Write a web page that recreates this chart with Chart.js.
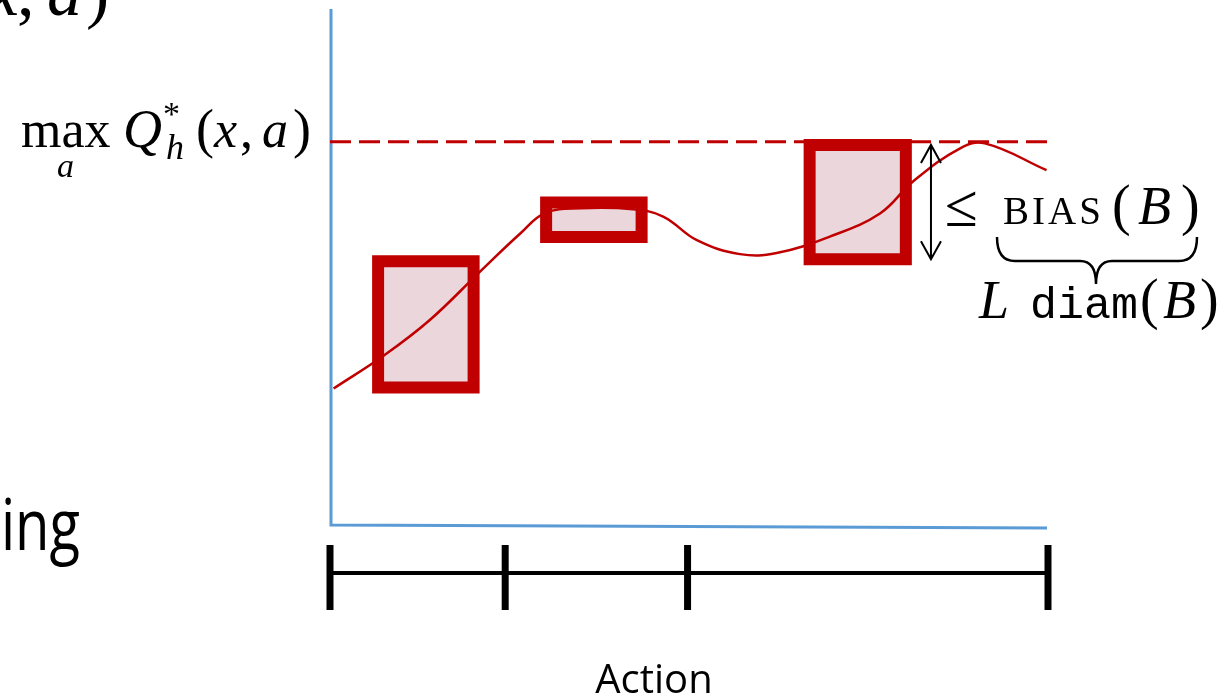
<!DOCTYPE html>
<html>
<head>
<meta charset="utf-8">
<script src="https://cdn.jsdelivr.net/npm/chart.js@4/dist/chart.umd.min.js"></script>
<style>
  html, body { margin: 0; padding: 0; background: #ffffff; }
  #wrap { width: 1231px; height: 698px; position: relative; }
</style>
</head>
<body>
<div id="wrap"><canvas id="qChart"></canvas></div>
<script>
// =====================================
// DATA (action on x, value on y, both 0..100)
// =====================================

const curveX = [0.5, 7.6, 13.9, 20.9, 26.5, 30.0, 35.0, 42.2, 46.4, 51.1, 57.1, 62.2,
    69.6, 76.6, 81.2, 87.7, 91.2, 99.8];
const curveY = [26.5, 33.0, 39.8, 49.2, 56.6, 60.6, 61.5, 61.3, 59.9, 55.3, 52.6, 52.8,
    56.0, 60.5, 66.7, 73.1, 74.1, 68.9];

const maxQ = 74.4;

// boxes: action range and value range
const boxLeft = [6.7, 30.1, 66.8];
const boxRight = [20.0, 43.4, 80.2];
const boxLow = [26.7, 55.9, 51.6];
const boxHigh = [51.2, 62.6, 73.8];

// partition of the action space
const partitionEdges = [0, 24.4, 49.8, 100];

// bias arrow beside the last box
const arrowX = 83.7;

const RED = "#c00000";
const PINK = "#ebd6dc";
const BLUE = "#5b9bd5";
const SERIF = '"Liberation Serif", "DejaVu Serif", serif';
const SANS = '"Open Sans", "Noto Sans", sans-serif';
const MONO = '"Liberation Mono", "DejaVu Sans Mono", monospace';

// =====================================
// DATASETS
// =====================================

const datasets = [];

datasets.push({
    data: curveX.map((x, i) => ({ x: x, y: curveY[i] })),
    showLine: true,
    borderColor: RED,
    borderWidth: 2.5,
    tension: 0.4,
    pointRadius: 0,
    fill: false,
    order: 0
});

boxLeft.forEach((l, i) => {
    const r = boxRight[i], lo = boxLow[i], hi = boxHigh[i];
    datasets.push({
        data: [
            { x: l, y: lo }, { x: l, y: hi }, { x: r, y: hi },
            { x: r, y: lo }, { x: l, y: lo }
        ],
        showLine: true,
        borderColor: RED,
        borderWidth: 12,
        borderJoinStyle: "miter",
        borderCapStyle: "square",
        backgroundColor: PINK,
        fill: "shape",
        tension: 0,
        pointRadius: 0,
        order: 2
    });
});

datasets.push({
    data: [{ x: 0, y: maxQ }, { x: 100, y: maxQ }],
    showLine: true,
    borderColor: RED,
    borderWidth: 3,
    borderDash: [21, 8],
    pointRadius: 0,
    fill: false,
    order: 3
});

// =====================================
// HELPERS
// =====================================

function txt(ctx, s, font, x, y) {
    ctx.font = font;
    ctx.fillText(s, x, y);
}

// =====================================
// PLUGIN: axes, arrow, brace, partition, labels
// =====================================

const decorations = {
    id: "decorations",
    beforeDatasetsDraw(chart) {
        const ctx = chart.ctx;
        const a = chart.chartArea;
        ctx.save();
        ctx.strokeStyle = BLUE;
        ctx.lineWidth = 3;
        ctx.beginPath();
        ctx.moveTo(a.left + 1, a.top - 1);
        ctx.lineTo(a.left + 1, a.bottom);
        ctx.lineTo(a.right - 1, a.bottom + 3);
        ctx.stroke();
        ctx.restore();
    },
    afterDraw(chart) {
        const ctx = chart.ctx;
        const xs = chart.scales.x;
        const ys = chart.scales.y;
        ctx.save();
        ctx.fillStyle = "#000000";
        ctx.strokeStyle = "#000000";
        ctx.textBaseline = "alphabetic";
        ctx.textAlign = "left";

        // double arrow
        const ax = xs.getPixelForValue(arrowX);
        const aTop = ys.getPixelForValue(boxHigh[2]);
        const aBot = ys.getPixelForValue(boxLow[2]);
        ctx.lineWidth = 2;
        ctx.beginPath();
        ctx.moveTo(ax, aTop);
        ctx.lineTo(ax, aBot);
        ctx.moveTo(ax - 10, aTop + 18);
        ctx.lineTo(ax, aTop);
        ctx.lineTo(ax + 10, aTop + 18);
        ctx.moveTo(ax - 10, aBot - 18);
        ctx.lineTo(ax, aBot);
        ctx.lineTo(ax + 10, aBot - 18);
        ctx.stroke();

        // underbrace
        ctx.lineWidth = 2.5;
        ctx.beginPath();
        ctx.moveTo(997, 237);
        ctx.quadraticCurveTo(997, 261, 1015, 261);
        ctx.lineTo(1080, 261);
        ctx.quadraticCurveTo(1096, 261, 1096, 284);
        ctx.quadraticCurveTo(1096, 261, 1112, 261);
        ctx.lineTo(1179, 261);
        ctx.quadraticCurveTo(1197, 261, 1197, 237);
        ctx.stroke();

        // partition bar
        const py = 573;
        ctx.lineWidth = 4;
        ctx.beginPath();
        ctx.moveTo(xs.getPixelForValue(partitionEdges[0]), py);
        ctx.lineTo(xs.getPixelForValue(partitionEdges[partitionEdges.length - 1]), py);
        ctx.stroke();
        ctx.lineWidth = 7;
        partitionEdges.forEach(v => {
            const px = xs.getPixelForValue(v);
            ctx.beginPath();
            ctx.moveTo(px, 545);
            ctx.lineTo(px, 610);
            ctx.stroke();
        });

        // max label
        const b = ys.getPixelForValue(maxQ) + 5;
        txt(ctx, "max", "52px " + SERIF, 21, b);
        txt(ctx, "a", "italic 34px " + SERIF, 57, b + 30);
        txt(ctx, "Q", "italic 54px " + SERIF, 123, b);
        txt(ctx, "*", "34px " + SERIF, 163, b - 22);
        txt(ctx, "h", "italic 36px " + SERIF, 166, b + 12);
        txt(ctx, "(", "54px " + SERIF, 196, b);
        txt(ctx, "x", "italic 52px " + SERIF, 214, b);
        txt(ctx, ",", "52px " + SERIF, 240, b);
        txt(ctx, "a", "italic 52px " + SERIF, 262, b);
        txt(ctx, ")", "54px " + SERIF, 293, b);

        // clipped text from the slide, top left
        txt(ctx, "x", "italic 70px " + SERIF, -12, 15);
        txt(ctx, ",", "70px " + SERIF, 17, 15);
        txt(ctx, "a", "italic 70px " + SERIF, 47, 15);
        txt(ctx, ")", "70px " + SERIF, 86, 15);

        // bias label
        txt(ctx, "\u2264", "60px " + SERIF, 945, 226);
        ctx.letterSpacing = "3px";
        txt(ctx, "BIAS", "39px " + SERIF, 1003, 224);
        ctx.letterSpacing = "0px";
        txt(ctx, "(", "56px " + SERIF, 1112, 224);
        txt(ctx, "B", "italic 54px " + SERIF, 1138, 224);
        txt(ctx, ")", "56px " + SERIF, 1181, 224);

        // L diam(B)
        txt(ctx, "L", "italic 54px " + SERIF, 979, 318);
        txt(ctx, "diam", "45px " + MONO, 1030, 318);
        txt(ctx, "(", "56px " + SERIF, 1140, 318);
        txt(ctx, "B", "italic 54px " + SERIF, 1163, 318);
        txt(ctx, ")", "56px " + SERIF, 1200, 318);

        // slide text at left (narrow, like the original slide font)
        ctx.save();
        ctx.font = "72px " + SANS;
        const w = ctx.measureText("ing").width * 0.78;
        ctx.translate(80 - w, 550);
        ctx.scale(0.78, 1);
        ctx.fillText("ing", 0, 0);
        ctx.restore();

        // axis title
        ctx.textAlign = "center";
        txt(ctx, "Action", "40px " + SANS, 654, 693);

        ctx.restore();
    }
};

// =====================================
// CHART
// =====================================

new Chart(document.getElementById("qChart"), {
    type: "scatter",
    data: { datasets: datasets },
    options: {
        responsive: true,
        maintainAspectRatio: false,
        animation: false,
        events: [],
        layout: {
            padding: { left: 330, right: 183, top: 10, bottom: 173 }
        },
        plugins: {
            legend: { display: false },
            tooltip: { enabled: false }
        },
        scales: {
            x: { type: "linear", min: 0, max: 100, display: false },
            y: { type: "linear", min: 0, max: 100, display: false }
        }
    },
    plugins: [decorations]
});
</script>
</body>
</html>
